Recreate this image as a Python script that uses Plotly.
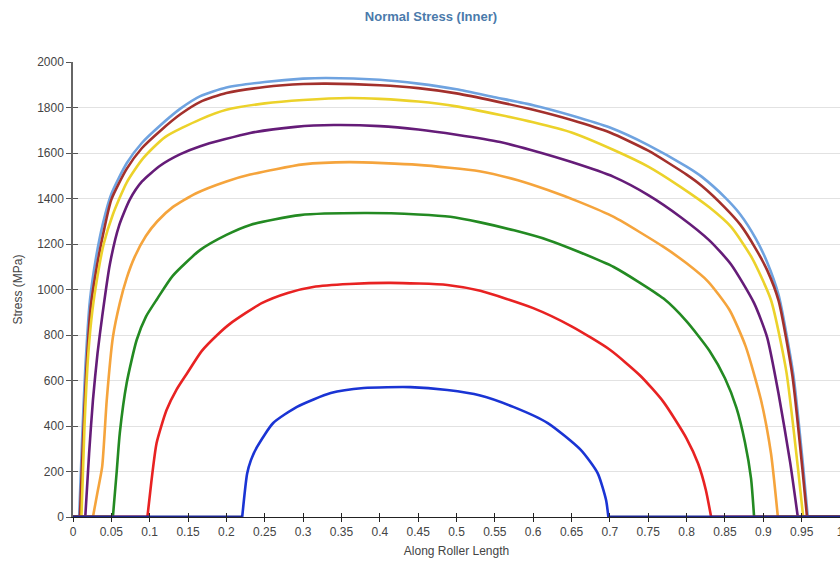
import plotly.graph_objects as go

# Normal stress along the roller length, one curve per load case
x_lb = [0, 0.008, 0.012, 0.016, 0.022, 0.03, 0.039, 0.05, 0.07, 0.09, 0.114, 0.14, 0.166, 0.2, 0.25, 0.3, 0.33,
        0.4, 0.45, 0.5, 0.55, 0.6, 0.65, 0.7, 0.75, 0.8, 0.82, 0.85, 0.87, 0.89, 0.905, 0.92, 0.939, 0.952, 0.958, 1]
y_lb = [0, 0, 350, 650, 950, 1140, 1290, 1420, 1555, 1645, 1722, 1795, 1850, 1888, 1912, 1927, 1930,
        1922, 1905, 1880, 1845, 1810, 1765, 1712, 1635, 1540, 1495, 1405, 1330, 1225, 1120, 975, 630, 220, 0, 0]

x_br = [0, 0.009, 0.013, 0.017, 0.023, 0.031, 0.04, 0.05, 0.07, 0.09, 0.114, 0.14, 0.166, 0.2, 0.25, 0.3, 0.33,
        0.4, 0.45, 0.5, 0.55, 0.6, 0.65, 0.7, 0.75, 0.8, 0.82, 0.85, 0.87, 0.89, 0.905, 0.92, 0.938, 0.951, 0.957, 1]
y_br = [0, 0, 330, 620, 920, 1100, 1255, 1395, 1530, 1622, 1698, 1770, 1825, 1864, 1890, 1903, 1905,
        1898, 1885, 1862, 1828, 1790, 1745, 1690, 1610, 1505, 1455, 1360, 1285, 1180, 1085, 950, 620, 210, 0, 0]

x_ye = [0, 0.011, 0.015, 0.02, 0.025, 0.032, 0.04, 0.052, 0.07, 0.091, 0.12, 0.166, 0.2, 0.25, 0.3, 0.36,
        0.4, 0.45, 0.5, 0.557, 0.6, 0.65, 0.705, 0.75, 0.792, 0.83, 0.858, 0.885, 0.91, 0.93, 0.945, 0.952, 1]
y_ye = [0, 0, 400, 720, 900, 1060, 1200, 1330, 1470, 1575, 1670, 1748, 1790, 1818, 1833, 1842,
        1838, 1826, 1805, 1767, 1735, 1690, 1613, 1540, 1451, 1360, 1275, 1140, 954, 640, 220, 0, 0]

x_pu = [0, 0.016, 0.021, 0.026, 0.032, 0.038, 0.048, 0.06, 0.074, 0.09, 0.114, 0.14, 0.166, 0.231, 0.29, 0.34,
        0.4, 0.45, 0.5, 0.557, 0.597, 0.65, 0.705, 0.75, 0.792, 0.83, 0.858, 0.888, 0.905, 0.92, 0.935, 0.945, 1]
y_pu = [0, 0, 280, 514, 720, 880, 1110, 1280, 1395, 1475, 1545, 1595, 1630, 1688, 1715, 1723,
        1718, 1703, 1680, 1648, 1613, 1560, 1495, 1415, 1319, 1215, 1110, 940, 790, 540, 240, 0, 0]

x_or = [0, 0.026, 0.032, 0.038, 0.044, 0.052, 0.061, 0.07, 0.08, 0.095, 0.11, 0.13, 0.16, 0.2, 0.231, 0.3, 0.36,
        0.45, 0.53, 0.58, 0.619, 0.66, 0.705, 0.77, 0.8, 0.828, 0.856, 0.877, 0.897, 0.91, 0.919, 1]
y_or = [0, 0, 110, 220, 514, 790, 940, 1050, 1140, 1235, 1300, 1362, 1422, 1475, 1505, 1550, 1560,
        1548, 1520, 1480, 1437, 1385, 1319, 1187, 1115, 1035, 910, 750, 514, 280, 0, 0]

x_gr = [0, 0.052, 0.057, 0.061, 0.07, 0.083, 0.095, 0.11, 0.13, 0.166, 0.2, 0.231, 0.296, 0.38, 0.45, 0.492,
        0.531, 0.575, 0.619, 0.66, 0.705, 0.77, 0.8, 0.83, 0.85, 0.865, 0.876, 0.884, 0.888, 1]
y_gr = [0, 0, 200, 369, 589, 778, 880, 960, 1060, 1174, 1240, 1284, 1327, 1336, 1330, 1320,
        1295, 1260, 1218, 1165, 1099, 960, 860, 730, 610, 480, 330, 170, 0, 0]

x_rd = [0, 0.097, 0.102, 0.109, 0.122, 0.135, 0.149, 0.168, 0.188, 0.205, 0.246, 0.28, 0.313, 0.36, 0.414, 0.488,
        0.531, 0.6, 0.65, 0.7, 0.74, 0.77, 0.8, 0.815, 0.825, 0.832, 1]
y_rd = [0, 0, 150, 325, 470, 560, 633, 730, 800, 850, 940, 985, 1011, 1024, 1029, 1020,
        994, 918, 838, 735, 620, 505, 345, 235, 120, 0, 0]

x_bl = [0, 0.2206, 0.227, 0.232, 0.24, 0.261, 0.292, 0.336, 0.379, 0.44, 0.488, 0.531, 0.574, 0.619, 0.662, 0.684,
        0.695, 0.698, 1]
y_bl = [0, 0, 190, 250, 308, 413, 484, 545, 567, 571, 558, 534, 484, 413, 295, 193, 75, 0, 0]

series = [
    (x_lb, y_lb, "#6fa3e0"),
    (x_br, y_br, "#a3302c"),
    (x_ye, y_ye, "#ecd22a"),
    (x_pu, y_pu, "#651c78"),
    (x_or, y_or, "#f5a43c"),
    (x_gr, y_gr, "#238a22"),
    (x_rd, y_rd, "#e82222"),
    (x_bl, y_bl, "#1a34d4"),
]
baseline_color = "#1c2690"

x_ticks = [round(i * 0.05, 2) for i in range(21)]
x_tick_text = ["0", "0.05", "0.1", "0.15", "0.2", "0.25", "0.3", "0.35", "0.4", "0.45", "0.5",
               "0.55", "0.6", "0.65", "0.7", "0.75", "0.8", "0.85", "0.9", "0.95", "1"]
y_ticks = [0, 200, 400, 600, 800, 1000, 1200, 1400, 1600, 1800, 2000]


def split_curve(xs, ys):
    """Split a series into its loaded dome and the zero stretches on either side."""
    nz = [i for i, v in enumerate(ys) if v > 0]
    a, b = nz[0] - 1, nz[-1] + 1
    dome = (xs[a:b + 1], ys[a:b + 1])
    tails = [(xs[:a + 1], ys[:a + 1]), (xs[b:], ys[b:])]
    return dome, tails


fig = go.Figure()
all_tails = []
for xs, ys, col in series:
    dome, tails = split_curve(xs, ys)
    fig.add_trace(go.Scatter(x=dome[0], y=dome[1], mode="lines",
                             line=dict(color=col, width=2.6, shape="spline", smoothing=0.6),
                             showlegend=False, hoverinfo="skip"))
    all_tails.append((tails, col))

# zero stretches, drawn on top so the last series' baseline shows through
for k, (tails, col) in enumerate(all_tails):
    c = baseline_color if k == len(all_tails) - 1 else col
    for tx, ty in tails:
        fig.add_trace(go.Scatter(x=tx, y=ty, mode="lines", line=dict(color=c, width=2.8),
                                 showlegend=False, hoverinfo="skip"))

# invisible trace carrying the inner half of the crossing tick marks
fig.add_trace(go.Scatter(x=[0], y=[0], xaxis="x2", yaxis="y2", mode="markers",
                         marker=dict(opacity=0), showlegend=False, hoverinfo="skip"))

font_family = "Liberation Sans, Arial, sans-serif"
fig.update_layout(
    width=840, height=564,
    margin=dict(l=73, r=0, t=62, b=47),
    paper_bgcolor="white", plot_bgcolor="white",
    font=dict(family=font_family, size=12, color="#444444"),
    title=dict(text="Normal Stress (Inner)", x=0.513, xanchor="center", y=0.97, yanchor="middle",
               font=dict(family=font_family, size=13, color="#4a7aab", weight="bold")),
    xaxis=dict(range=[0, 1], tickvals=x_ticks, ticktext=x_tick_text, ticks="outside", ticklen=4,
               tickcolor="#222222", showline=True, linecolor="#222222", linewidth=1,
               showgrid=False, zeroline=False, automargin=False, ticklabeloverflow="allow",
               title=dict(text="Along Roller Length", standoff=8, font=dict(size=12, color="#444444")),
               tickfont=dict(size=12, color="#444444")),
    yaxis=dict(range=[0, 2000], tickvals=y_ticks, ticks="outside", ticklen=5,
               tickcolor="#555555", showline=True, linecolor="#666666", linewidth=1.5,
               showgrid=True, gridcolor="#e2e2e2", gridwidth=1, zeroline=False, automargin=False,
               title=dict(text="Stress (MPa)", standoff=12, font=dict(size=12, color="#444444")),
               tickfont=dict(size=12, color="#444444")),
    xaxis2=dict(overlaying="x", range=[0, 1], tickvals=x_ticks, ticks="inside", ticklen=4,
                tickcolor="#222222", showticklabels=False, showgrid=False, zeroline=False,
                showline=False, anchor="y2", side="bottom"),
    yaxis2=dict(overlaying="y", range=[0, 2000], tickvals=y_ticks, ticks="inside", ticklen=5,
                tickcolor="#555555", showticklabels=False, showgrid=False, zeroline=False,
                showline=False, anchor="x2", side="left"),
)

fig.write_html("out.html")
